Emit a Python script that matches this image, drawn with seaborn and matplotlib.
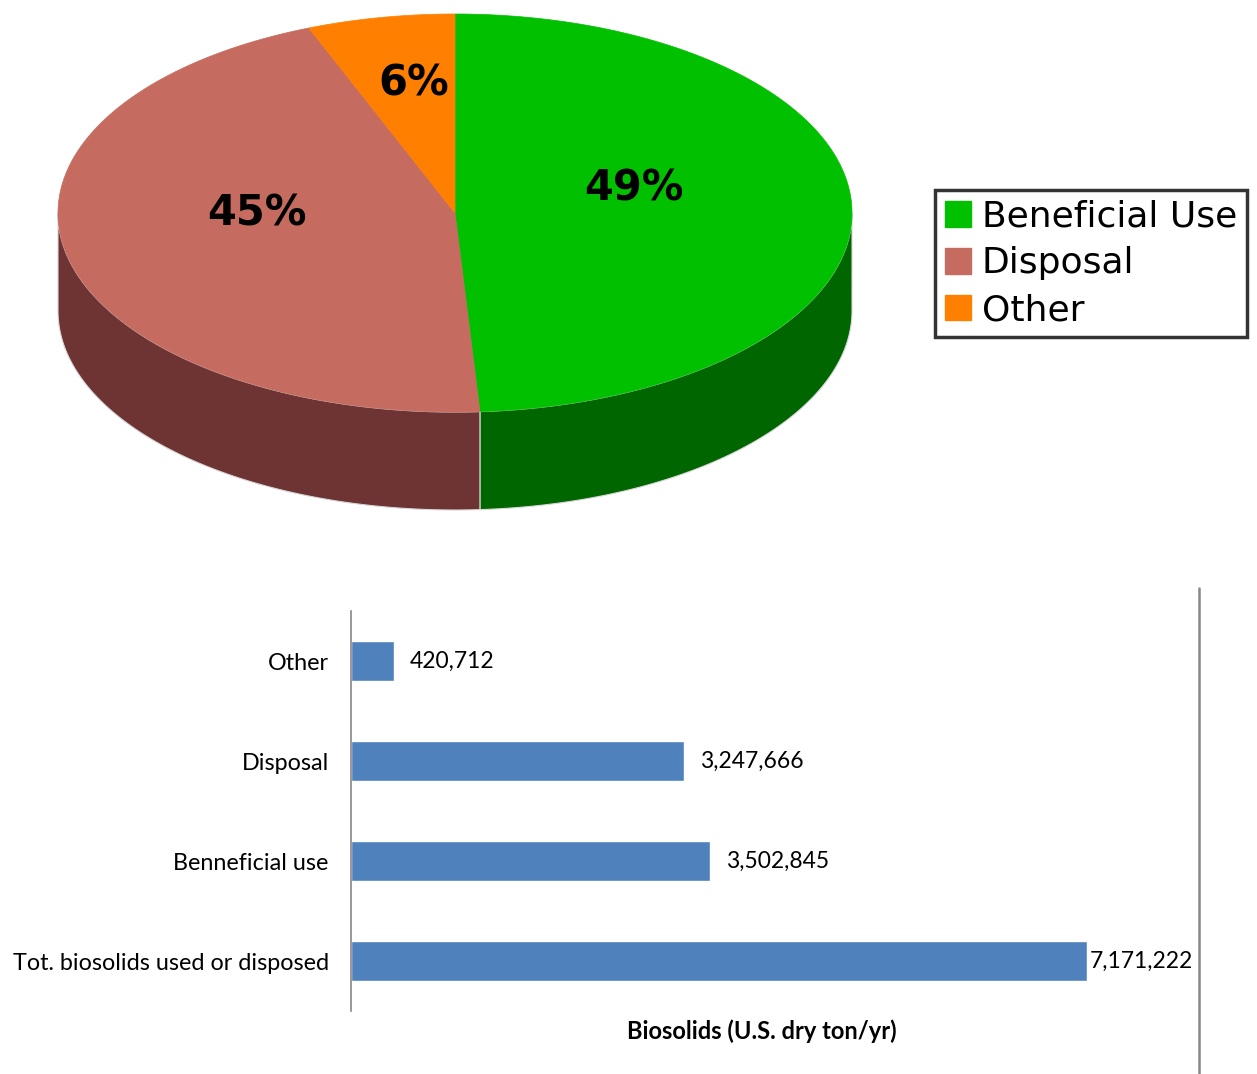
import numpy as np
import matplotlib
matplotlib.use("Agg")
import matplotlib.pyplot as plt
import seaborn as sns
from matplotlib.patches import Polygon, Patch
from matplotlib.lines import Line2D

# pie data (percent shares)
pie_labels = ["Beneficial Use", "Disposal", "Other"]
pie_values = [49, 45, 6]
pie_top_colors = ["#00c000", "#c66b60", "#ff8000"]
pie_side_colors = ["#006600", "#6d3433", "#a35200"]

# bar data (U.S. dry ton/yr)
bar_cats = ["Other", "Disposal", "Benneficial use", "Tot. biosolids used or disposed"]
bar_values = [420712, 3247666, 3502845, 7171222]

sns.set_theme(style="white")
plt.rcParams["font.family"] = ["DejaVu Sans"]
plt.rcParams["text.color"] = "black"

W, H = 1257, 1074
fig = plt.figure(figsize=(W / 100, H / 100), dpi=100)

# ---- 3D-looking pie, drawn in pixel-like coordinates ----
pie_h = 540
ax_pie = fig.add_axes([0, 1 - pie_h / H, 1, pie_h / H])
ax_pie.set_xlim(0, W)
ax_pie.set_ylim(pie_h, 0)
ax_pie.axis("off")

cx, cy, a, b, depth = 455, 213, 397, 199, 98


def ell(t):
    t = np.radians(t)
    return cx + a * np.cos(t), cy - b * np.sin(t)


fracs = np.array(pie_values) / sum(pie_values)
starts = 90 - 360 * np.concatenate([[0], np.cumsum(fracs)[:-1]])
ends = starts - 360 * fracs

# side walls (only the front half, angles -180..0)
for s, e, col in zip(starts, ends, pie_side_colors):
    for k in (-1, 0, 1):
        lo = max(e, -180 + 360 * k)
        hi = min(s, 0 + 360 * k)
        if hi <= lo:
            continue
        t = np.linspace(lo, hi, 200)
        x, y = ell(t)
        pts = np.column_stack([np.concatenate([x, x[::-1]]),
                               np.concatenate([y, y[::-1] + depth])])
        ax_pie.add_patch(Polygon(pts, closed=True, facecolor=col,
                                 edgecolor="#d8d8d8", lw=0.8, zorder=1))

# top face wedges
for s, e, col in zip(starts, ends, pie_top_colors):
    t = np.linspace(e, s, 300)
    x, y = ell(t)
    pts = np.column_stack([np.concatenate([[cx], x]), np.concatenate([[cy], y])])
    ax_pie.add_patch(Polygon(pts, closed=True, facecolor=col,
                             edgecolor=col, lw=0.5, zorder=2))

# percentage labels
label_r = [0.45, 0.51, 0.55]
for s, e, v, r in zip(starts, ends, pie_values, label_r):
    mid = np.radians((s + e) / 2)
    lx = cx + r * a * np.cos(mid)
    ly = cy - r * b * np.sin(mid) - 22
    ax_pie.text(lx, ly, f"{v}%", ha="center", va="center",
                fontsize=30, fontweight="bold", color="black", zorder=3)

handles = [Patch(facecolor=c, edgecolor=c) for c in pie_top_colors]
leg = fig.legend(handles, pie_labels, loc="center left",
                 bbox_to_anchor=(935 / W, 1 - 263.5 / H), borderaxespad=0,
                 fontsize=26, frameon=True, fancybox=False,
                 handlelength=0.72, handleheight=0.72, handletextpad=0.3,
                 labelspacing=0.35, borderpad=0.28)
leg.get_frame().set_edgecolor("black")
leg.get_frame().set_linewidth(2.5)
for txt in leg.get_texts():
    txt.set_color("black")

# ---- horizontal bar chart ----
ax = fig.add_axes([351 / W, 1 - 1011 / H, 821 / W, 400 / H])
sns.barplot(x=bar_values, y=bar_cats, orient="h", color="#4f81bd",
            width=0.4, saturation=1, ax=ax)
ax.set_xlim(0, 8000000)
ax.set_xticks([])
for side in ["top", "right", "bottom"]:
    ax.spines[side].set_visible(False)
ax.spines["left"].set_color("#888888")
ax.spines["left"].set_linewidth(1.2)
ax.tick_params(axis="y", length=0, pad=16)
for lab in ax.get_yticklabels():
    lab.set_fontfamily("Lato")
    lab.set_fontsize(16.8)
    lab.set_color("black")
ax.set_ylabel("")
ax.set_xlabel("Biosolids (U.S. dry ton/yr)", fontfamily="Lato",
              fontsize=17, fontweight="bold", labelpad=6, color="black")

for i, v in enumerate(bar_values):
    off = 2 if v == max(bar_values) else 11
    ax.annotate(f"{v:,}", (v, i), xytext=(off, 0), textcoords="offset points",
                va="center", ha="left", fontfamily="Lato", fontsize=16.5,
                color="black")

fig.add_artist(Line2D([1199 / W, 1199 / W], [0, 1 - 588 / H],
                      transform=fig.transFigure, color="#888888", lw=1.8))

fig.savefig("out.png", dpi=100, facecolor="white")
